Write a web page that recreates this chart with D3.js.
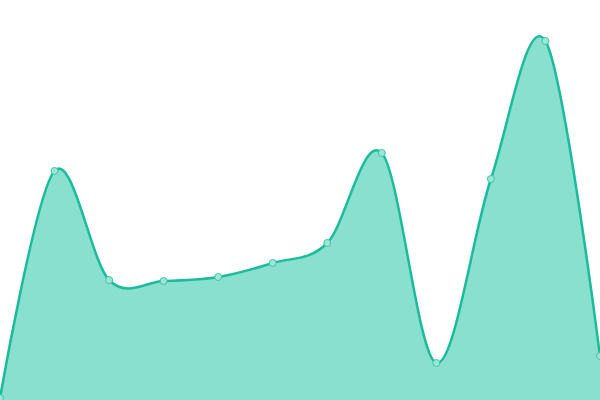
<!DOCTYPE html>
<html>
  <head>
    <meta charset="utf-8">
    <title>area</title>
    <script src="https://d3js.org/d3.v7.min.js"></script>
    <style>
      html, body { margin: 0; padding: 0; background: #fff; }
      svg { display: block; }
    </style>
  </head>
  <body>
    <div id="chart"></div>
  </body>
  <script>
  var categories = ["1", "2", "3", "4", "5", "6", "7", "8", "9", "10", "11", "12"];
  var values     = [2, 229, 120, 119, 123, 137, 157, 247, 37, 221, 359, 44];

  var width = 600, height = 400;

  var svg = d3.select("#chart")
      .append("svg")
      .attr("width", width)
      .attr("height", height);

  var x = d3.scalePoint().domain(categories).range([0, width]);
  var y = d3.scaleLinear().domain([0, 400]).range([height, 0]);

  var data = categories.map((c, i) => ({ c: c, v: values[i] }));

  // fill
  svg.append("path")
      .datum(data)
      .attr("fill", "#8ae0cf")
      .attr("d", d3.area()
          .x(d => x(d.c))
          .y0(height)
          .y1(d => y(d.v))
          .curve(d3.curveCardinal));

  // line
  svg.append("path")
      .datum(data)
      .attr("fill", "none")
      .attr("stroke", "#1abc9c")
      .attr("stroke-width", 2.5)
      .attr("d", d3.line()
          .x(d => x(d.c))
          .y(d => y(d.v))
          .curve(d3.curveCardinal));

  // points
  svg.selectAll("circle")
      .data(data)
      .enter()
      .append("circle")
      .attr("cx", d => x(d.c))
      .attr("cy", d => y(d.v))
      .attr("r", 3.5)
      .attr("fill", "#9de6d7")
      .attr("stroke", "#3cc6aa")
      .attr("stroke-width", 1);
  </script>
</html>
